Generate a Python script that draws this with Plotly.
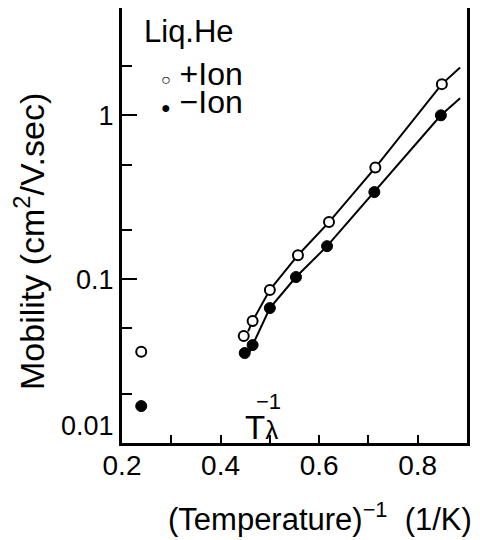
import plotly.graph_objects as go

# ---- data ----
inv_T_plus = [0.239, 0.447, 0.465, 0.500, 0.557, 0.620, 0.714, 0.849]
mob_plus = [0.036, 0.045, 0.0555, 0.086, 0.14, 0.223, 0.48, 1.55]

inv_T_minus = [0.239, 0.449, 0.465, 0.500, 0.553, 0.616, 0.712, 0.847]
mob_minus = [0.0168, 0.0354, 0.0396, 0.0666, 0.103, 0.159, 0.34, 1.0]

fit_x_plus = [0.456, 0.465, 0.500, 0.557, 0.620, 0.714, 0.849, 0.886]
fit_plus = [0.048, 0.0555, 0.086, 0.14, 0.223, 0.48, 1.55, 1.96]

fit_x_minus = [0.459, 0.465, 0.500, 0.553, 0.616, 0.712, 0.847, 0.886]
fit_minus = [0.036, 0.0396, 0.0666, 0.103, 0.159, 0.34, 1.0, 1.27]

T_LAMBDA = 2.17  # K
x_ticks = [0.2, 0.4, 0.6, 0.8]
x_ticklabels = ["0.2", "0.4", "0.6", "0.8"]
x_minor = [0.3, 0.5, 0.7]
y_ticks = [0.01, 0.1, 1]
y_ticklabels = ["0.01<br> ", "0.1", "1"]
y_minor = [0.02, 0.05, 0.2, 0.5, 2]

legend_title = "Liq.He"
legend_plus = "+Ion"
legend_minus = "\u2212Ion"
x_title = "(Temperature)<sup>\u22121</sup>  (1/K)"
y_title = "Mobility (cm<sup>2</sup>/V.sec)"

FONT = "Liberation Sans, Arial, sans-serif"
BLACK = "black"

fig = go.Figure()
fig.add_trace(go.Scatter(x=fit_x_plus, y=fit_plus, mode="lines",
                         line=dict(color=BLACK, width=2), showlegend=False, hoverinfo="skip"))
fig.add_trace(go.Scatter(x=fit_x_minus, y=fit_minus, mode="lines",
                         line=dict(color=BLACK, width=2), showlegend=False, hoverinfo="skip"))
fig.add_trace(go.Scatter(x=inv_T_plus, y=mob_plus, mode="markers", name=legend_plus,
                         showlegend=False,
                         marker=dict(symbol="circle", size=10, color="white",
                                     line=dict(color=BLACK, width=2))))
fig.add_trace(go.Scatter(x=inv_T_minus, y=mob_minus, mode="markers", name=legend_minus,
                         showlegend=False,
                         marker=dict(symbol="circle", size=11, color=BLACK,
                                     line=dict(color=BLACK, width=1))))


def ann(**kw):
    base = dict(showarrow=False, font=dict(family=FONT, color=BLACK, size=30))
    base.update(kw)
    fig.add_annotation(**base)


# legend drawn as text
ann(x=0.058, y=1.0, xref="paper", yref="paper", xanchor="left", yanchor="top",
    yshift=-4, text=legend_title, font=dict(family=FONT, color=BLACK, size=31))
ann(x=0.09, y=1.0, xref="paper", yref="paper", xanchor="left", yanchor="top",
    xshift=6, yshift=-50, height=28, valign="middle",
    text="<span style='font-size:16px'>\u25cb</span> " + legend_plus,
    font=dict(family=FONT, color=BLACK, size=32))
ann(x=0.09, y=1.0, xref="paper", yref="paper", xanchor="left", yanchor="top",
    xshift=6, yshift=-78, height=28, valign="middle",
    text="<span style='font-size:16px'>\u25cf</span> " + legend_minus,
    font=dict(family=FONT, color=BLACK, size=32))

# T_lambda^-1 marker text
ann(x=1 / T_LAMBDA, y=0, xref="x", yref="paper",
    text="T<span style='font-size:26px'>\u03bb</span>",
    xanchor="left", yanchor="bottom", xshift=-8, yshift=-5,
    font=dict(family=FONT, color=BLACK, size=33))
ann(x=1 / T_LAMBDA, y=0, xref="x", yref="paper", text="\u22121",
    xanchor="left", yanchor="bottom", xshift=3, yshift=27,
    font=dict(family=FONT, color=BLACK, size=22))

# axis titles
ann(x=1.0, y=0, xref="paper", yref="paper", text=x_title,
    xanchor="right", yanchor="top", xshift=7, yshift=-52,
    font=dict(family=FONT, color=BLACK, size=31))
ann(x=0, y=0.5, xref="paper", yref="paper", text=y_title, textangle=-90,
    xanchor="right", yanchor="middle", xshift=-69, yshift=-16,
    font=dict(family=FONT, color=BLACK, size=34))

fig.update_xaxes(range=[0.2, 0.9], tickvals=x_ticks, ticktext=x_ticklabels,
                 ticks="inside", ticklen=8, tickwidth=2, tickcolor=BLACK,
                 minor=dict(tickvals=x_minor, ticks="inside", ticklen=8, tickwidth=2, tickcolor=BLACK),
                 showline=True, linewidth=3, linecolor=BLACK, mirror=True,
                 showgrid=False, zeroline=False, automargin=False,
                 ticklabelstandoff=-5,
                 tickfont=dict(size=28, family=FONT, color=BLACK))
fig.update_yaxes(type="log", range=[-2, 0.655], tickvals=y_ticks, ticktext=y_ticklabels,
                 ticks="inside", ticklen=15, tickwidth=2, tickcolor=BLACK,
                 minor=dict(tickvals=y_minor, ticks="inside", ticklen=10, tickwidth=2, tickcolor=BLACK),
                 showline=True, linewidth=3, linecolor=BLACK, mirror=True,
                 showgrid=False, zeroline=False, automargin=False,
                 tickfont=dict(size=27, family=FONT, color=BLACK))

# the page body adds an 8px offset, so the figure is 8px smaller
fig.update_layout(
    width=472, height=532,
    margin=dict(l=114, r=13, t=0, b=97),
    paper_bgcolor="white", plot_bgcolor="white",
    font=dict(family=FONT, color=BLACK),
    showlegend=False,
)

fig.write_html("out.html")
